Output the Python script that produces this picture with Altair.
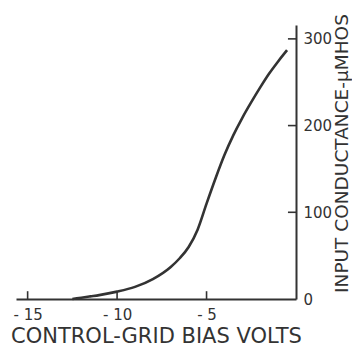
import altair as alt
import pandas as pd

# Curve
bias_volts = [-12.5, -12, -11.5, -11, -10, -9, -8, -7, -6.5, -6, -5.5, -5, -4.5, -4, -3.5, -3, -2.5, -2, -1.5, -1, -0.5]
conductance = [0, 1.5, 3, 4.5, 8.5, 14, 23, 37, 47, 60, 80, 110, 139, 166, 189, 209, 227, 244, 260, 274, 287]

x_tick_values = [-15, -10, -5]
y_tick_values = [100, 200, 300]
y_label_values = [0, 100, 200, 300]

x_domain = [-15.65, 0]
y_domain = [0, 316]

ink = "#333333"
font = "DejaVu Sans"

curve_df = pd.DataFrame({"v": bias_volts, "g": conductance})
xt_df = pd.DataFrame({"v": x_tick_values, "g0": [0] * 3, "g1": [9] * 3})
yt_df = pd.DataFrame({"g": y_tick_values, "v0": [-0.45] * 3, "v1": [0] * 3})

x_scale = alt.Scale(domain=x_domain, nice=False, zero=False)
y_scale = alt.Scale(domain=y_domain, nice=False)

curve = alt.Chart(curve_df).mark_line(
    color=ink, strokeWidth=2.6, interpolate="monotone"
).encode(
    x=alt.X("v:Q", scale=x_scale, axis=alt.Axis(
        orient="bottom", values=x_tick_values, ticks=False, grid=False,
        domainColor=ink, domainWidth=2,
        labelExpr="'- ' + format(abs(datum.value), 'd')",
        labelFont=font, labelFontSize=15, labelColor=ink, labelPadding=8,
        labelFlush=False,
        title="CONTROL-GRID BIAS VOLTS", titleFont=font, titleFontSize=21,
        titleFontWeight="normal", titleColor=ink,
        titleX=140, titleY=43, titleAnchor="middle", titleBaseline="alphabetic",
    )),
    y=alt.Y("g:Q", scale=y_scale, axis=alt.Axis(
        orient="right", values=y_label_values, ticks=False, grid=False,
        domainColor=ink, domainWidth=2,
        labelFont=font, labelFontSize=15, labelColor=ink, labelPadding=7,
        labelFlush=False,
        title="INPUT CONDUCTANCE-\u03bcMHOS", titleFont=font, titleFontSize=18.5,
        titleFontWeight="normal", titleColor=ink, titleAngle=270,
        titleAnchor="middle", titleY=128, titleX=45, titleBaseline="middle",
    )),
)

x_ticks = alt.Chart(xt_df).mark_rule(color=ink, strokeWidth=1.6).encode(
    x=alt.X("v:Q", scale=x_scale),
    y=alt.Y("g0:Q", scale=y_scale),
    y2="g1:Q",
)

y_ticks = alt.Chart(yt_df).mark_rule(color=ink, strokeWidth=1.6).encode(
    y=alt.Y("g:Q", scale=y_scale),
    x=alt.X("v0:Q", scale=x_scale),
    x2="v1:Q",
)

chart = alt.layer(curve, x_ticks, y_ticks).properties(
    width=280, height=274,
    padding={"left": 8, "top": 17, "right": 56, "bottom": 49},
    autosize=alt.AutoSizeParams(type="none"),
    background="white",
).configure_view(stroke=None)

chart.save("out.html", embed_options={"renderer": "svg", "actions": False})
